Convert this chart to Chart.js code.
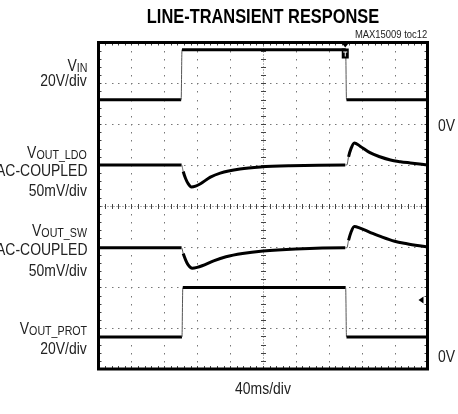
<!DOCTYPE html>
<html>
<head>
<meta charset="utf-8">
<script src="https://cdn.jsdelivr.net/npm/chart.js@4.4.1/dist/chart.umd.min.js"></script>
<style>
  body { margin: 0; background: #fff; }
  #wrap { position: relative; width: 458px; height: 414px; overflow: hidden;
          font-family: "Liberation Sans", Arial, sans-serif; color: #222; }
  canvas { position: absolute; left: 0; top: 0; }
  .lbl { position: absolute; line-height: 0; white-space: nowrap; }
  .sub { font-size: 13px; position: relative; top: 1px; }
</style>
</head>
<body>
<div id="wrap"><canvas id="scope" width="458" height="414"></canvas></div>
<script>
'use strict';

// VIN step, volts vs ms
const vinTimes = [0, 100.5, 101.5, 300.5, 301.5, 400];
const vinVolts = [14, 14, 38.5, 38.5, 14, 14];

// VOUT_LDO, AC coupled, mV vs ms
const ldoTimes = [0, 101, 103, 106, 109, 113, 118, 124, 136, 148, 172, 197, 233, 300, 302, 304, 307, 311, 318, 330, 342, 355, 367, 379, 400];
const ldoMv    = [0, 0, -8, -17, -23, -27, -26, -23, -15, -10, -5, -2.5, -1, 0, 0, 10, 20, 27, 23, 15, 10, 6, 4, 2.5, 0];

// VOUT_SW, AC coupled, mV vs ms
const swTimes = [0, 101, 103, 106, 109, 114, 120, 126, 140, 155, 175, 200, 240, 300, 302, 304, 307, 311, 318, 330, 345, 360, 375, 390, 400];
const swMv    = [0, 0, -7, -15, -21, -25, -24, -22, -16, -11, -7, -4, -1.5, 0, 0, 9, 19, 26, 24, 19, 13, 8, 5, 2.5, 1];

// VOUT_PROT, volts vs ms
const protTimes = [0, 101.5, 102.5, 300.5, 301.5, 400];
const protVolts = [9.8, 9.8, 34, 34, 9.8, 9.8];

// screen: 10 x 8 divisions, 40ms/div
const channels = [
  { name: 'VIN',       t: vinTimes,  v: vinVolts,  perDiv: 20, zeroDiv: 5.9 },
  { name: 'VOUT_LDO',  t: ldoTimes,  v: ldoMv,     perDiv: 50, zeroDiv: 5.0 },
  { name: 'VOUT_SW',   t: swTimes,   v: swMv,      perDiv: 50, zeroDiv: 2.97 },
  { name: 'VOUT_PROT', t: protTimes, v: protVolts, perDiv: 20, zeroDiv: 0.294 }
];

const scopeGrid = {
  id: 'scopeGrid',
  beforeDatasetsDraw(chart) {
    const { ctx, chartArea: a, scales: { x, y } } = chart;
    ctx.save();
    ctx.fillStyle = '#777';
    for (let i = 1; i < 10; i++) {
      if (i === 5) continue;
      const px = Math.round(x.getPixelForValue(i * 40));
      for (let j = 1; j < 40; j++) ctx.fillRect(px, Math.round(y.getPixelForValue(j * 0.2)), 1, 1.5);
    }
    for (let k = 1; k < 8; k++) {
      if (k === 4) continue;
      const py = Math.round(y.getPixelForValue(k));
      for (let m = 1; m < 50; m++) ctx.fillRect(Math.round(x.getPixelForValue(m * 8)), py, 1.5, 1);
    }
    // center cross with minor ticks
    const cx = Math.round(x.getPixelForValue(200)) + 0.5;
    const cy = Math.round(y.getPixelForValue(4)) + 0.5;
    ctx.strokeStyle = '#666';
    ctx.lineWidth = 1;
    ctx.setLineDash([1, 2]);
    ctx.beginPath();
    ctx.moveTo(cx, a.top); ctx.lineTo(cx, a.bottom);
    ctx.moveTo(a.left, cy); ctx.lineTo(a.right, cy);
    ctx.stroke();
    ctx.setLineDash([]);
    ctx.strokeStyle = '#444';
    ctx.beginPath();
    for (let j = 1; j < 40; j++) {
      const py = Math.round(y.getPixelForValue(j * 0.2)) + 0.5;
      ctx.moveTo(cx - 2.5, py); ctx.lineTo(cx + 2.5, py);
      ctx.moveTo(a.left, py); ctx.lineTo(a.left + 3, py);
      ctx.moveTo(a.right, py); ctx.lineTo(a.right - 3, py);
    }
    for (let m = 1; m < 50; m++) {
      const px = Math.round(x.getPixelForValue(m * 8)) + 0.5;
      ctx.moveTo(px, cy - 2.5); ctx.lineTo(px, cy + 2.5);
      ctx.moveTo(px, a.top); ctx.lineTo(px, a.top + 3);
      ctx.moveTo(px, a.bottom); ctx.lineTo(px, a.bottom - 3);
    }
    ctx.stroke();
    ctx.restore();
  },
  afterDatasetsDraw(chart) {
    const { ctx, chartArea: a, scales: { x, y } } = chart;
    ctx.save();
    ctx.strokeStyle = '#000';
    ctx.lineWidth = 3;
    ctx.strokeRect(a.left, a.top, a.right - a.left, a.bottom - a.top);
    // trigger marker
    const tx = x.getPixelForValue(300);
    ctx.fillStyle = '#000';
    ctx.beginPath();
    ctx.moveTo(tx - 4, a.top); ctx.lineTo(tx + 4, a.top); ctx.lineTo(tx, a.top + 5);
    ctx.fill();
    ctx.fillRect(tx - 3.5, a.top + 6, 7, 10);
    ctx.strokeStyle = '#fff';
    ctx.lineWidth = 1;
    ctx.beginPath();
    ctx.moveTo(tx - 2, a.top + 9.5); ctx.lineTo(tx + 2, a.top + 9.5);
    ctx.moveTo(tx, a.top + 9.5); ctx.lineTo(tx, a.top + 14);
    ctx.stroke();
    // channel level arrow
    const ay = y.getPixelForValue(1.69);
    ctx.beginPath();
    ctx.moveTo(a.right - 9, ay); ctx.lineTo(a.right - 4, ay - 3.5); ctx.lineTo(a.right - 4, ay + 3.5);
    ctx.fill();
    ctx.restore();
  }
};

new Chart(document.getElementById('scope'), {
  type: 'line',
  data: {
    datasets: channels.map(ch => ({
      label: ch.name,
      data: ch.t.map((t, i) => ({ x: t, y: ch.zeroDiv + ch.v[i] / ch.perDiv })),
      borderColor: '#000',
      borderWidth: 3,
      pointRadius: 0,
      cubicInterpolationMode: 'monotone',
      segment: {
        borderWidth: c => Math.abs(c.p1.x - c.p0.x) < 2 ? 1 : 3,
        borderColor: c => Math.abs(c.p1.x - c.p0.x) < 2 ? '#555' : '#000'
      }
    }))
  },
  options: {
    responsive: false,
    devicePixelRatio: 1,
    animation: false,
    layout: { padding: { left: 98.5, right: 30.5, top: 42.5, bottom: 45 } },
    scales: {
      x: { type: 'linear', min: 0, max: 400, display: false },
      y: { type: 'linear', min: 0, max: 8, display: false }
    },
    plugins: { legend: { display: false }, tooltip: { enabled: false } }
  },
  plugins: [scopeGrid]
});

// text labels, placed by baseline, squeezed to a narrow face
const wrap = document.getElementById('wrap');
function label(html, x, base, size, align, bold) {
  const d = document.createElement('div');
  d.className = 'lbl';
  d.innerHTML = html;
  d.style.fontSize = size + 'px';
  if (bold) { d.style.fontWeight = 'bold'; d.style.color = '#000'; }
  d.style.top = (base - 0.3465 * size) + 'px';
  d.style.transform = 'scaleX(0.82)';
  if (align === 'right') {
    d.style.right = (458 - x) + 'px'; d.style.textAlign = 'right'; d.style.transformOrigin = 'right center';
  } else if (align === 'center') {
    d.style.left = (x - 200) + 'px'; d.style.width = '400px'; d.style.textAlign = 'center'; d.style.transformOrigin = 'center center';
  } else {
    d.style.left = x + 'px'; d.style.transformOrigin = 'left center';
  }
  wrap.appendChild(d);
}
label('LINE-TRANSIENT RESPONSE', 262.5, 23, 20, 'center', true);
label('MAX15009 toc12', 427, 38, 11.5, 'right');
label('V<span class="sub">IN</span>', 87, 72, 17, 'right');
label('20V/div', 87, 87, 17, 'right');
label('V<span class="sub">OUT_LDO</span>', 87, 159, 17, 'right');
label('AC-COUPLED', 87, 177, 17, 'right');
label('50mV/div', 87, 197, 17, 'right');
label('V<span class="sub">OUT_SW</span>', 87, 237, 17, 'right');
label('AC-COUPLED', 87, 256, 17, 'right');
label('50mV/div', 87, 277, 17, 'right');
label('V<span class="sub">OUT_PROT</span>', 87, 335, 17, 'right');
label('20V/div', 87, 355, 17, 'right');
label('0V', 438, 132, 17, 'left');
label('0V', 438, 363, 17, 'left');
label('40ms/div', 262.5, 395, 17, 'center');
</script>
</body>
</html>
